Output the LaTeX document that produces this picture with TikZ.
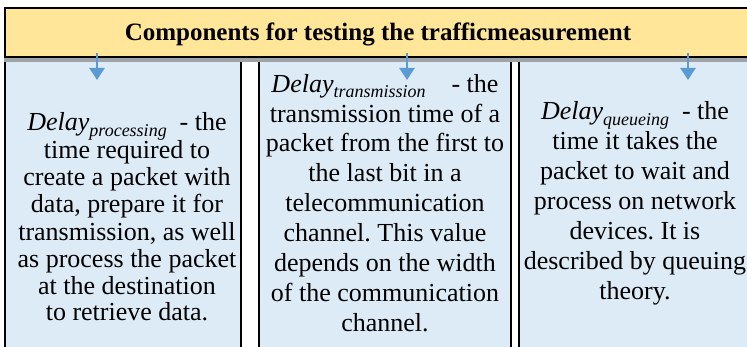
\documentclass[tikz,border=0pt]{standalone}
\usepackage{fontspec}
\setmainfont{LiberationSerif}[Extension=.ttf, UprightFont=*-Regular, BoldFont=*-Bold, ItalicFont=*-Italic, BoldItalicFont=*-BoldItalic]
\frenchspacing
\usetikzlibrary{arrows.meta}
\definecolor{headfill}{HTML}{FFE699}
\definecolor{boxfill}{HTML}{DDEBF7}
\definecolor{arrblue}{HTML}{5B9BD5}
\definecolor{bandgray}{HTML}{9EA3A8}
\newcommand\mysubscr[1]{\raisebox{-0.22em}{\fontsize{18}{18}\selectfont\itshape #1}}
\tikzset{
  headbox/.style={draw=black, line width=2pt, fill=headfill},
  colbox/.style={draw=black, line width=2pt, fill=boxfill},
  bodytext/.style={align=center, anchor=base, inner sep=0pt, font=\fontsize{26}{30}\selectfont},
  downarr/.style={draw=arrblue, line width=2.6pt, -{Triangle[width=15pt,length=12pt]}},
}
\begin{document}
\begin{tikzpicture}[x=1pt,y=-1pt]
\useasboundingbox (0,0) rectangle (747,347);
% columns
\path[colbox] (5,58) rectangle (241,370);
\path[colbox] (259,58) rectangle (511,370);
\path[colbox] (519,58) rectangle (770,370);
% header
\path[headbox] (5,8) rectangle (770,57);
\fill[bandgray] (4,58) rectangle (770,62.5);
\node[inner sep=0pt, anchor=base, font=\fontsize{25}{27}\selectfont\bfseries] (head) at (378,41)
  {Components for testing the trafficmeasurement};
% texts (anchored at the baseline of the last line)
\node[bodytext, font=\fontsize{26}{27}\selectfont] (t1) at (127,321)
  {\textit{Delay}\mysubscr{processing}\ \ - the\\
   time required to\\
   create a packet with\\
   data, prepare it for\\
   transmission, as well\\
   as process the packet\\
   at the destination\\
   to retrieve data.};
\node[bodytext] (t2) at (385,332)
  {\textit{Delay}\mysubscr{transmission}\ \ \ \ - the\\
   transmission time of a\\
   packet from the first to\\
   the last bit in a\\
   telecommunication\\
   channel. This value\\
   depends on the width\\
   of the communication\\
   channel.};
\node[bodytext] (t3) at (635,300)
  {\textit{Delay}\mysubscr{queueing}\ \ - the\\
   time it takes the\\
   packet to wait and\\
   process on network\\
   devices. It is\\
   described by queuing\\
   theory.};
% arrows
\coordinate (s1) at (97,53);  \coordinate (e1) at (97,80);
\coordinate (s2) at (407,53); \coordinate (e2) at (407,80);
\coordinate (s3) at (688,53); \coordinate (e3) at (688,80);
\draw[downarr] (s1) -- (e1);
\draw[downarr] (s2) -- (e2);
\draw[downarr] (s3) -- (e3);
\end{tikzpicture}
\end{document}
